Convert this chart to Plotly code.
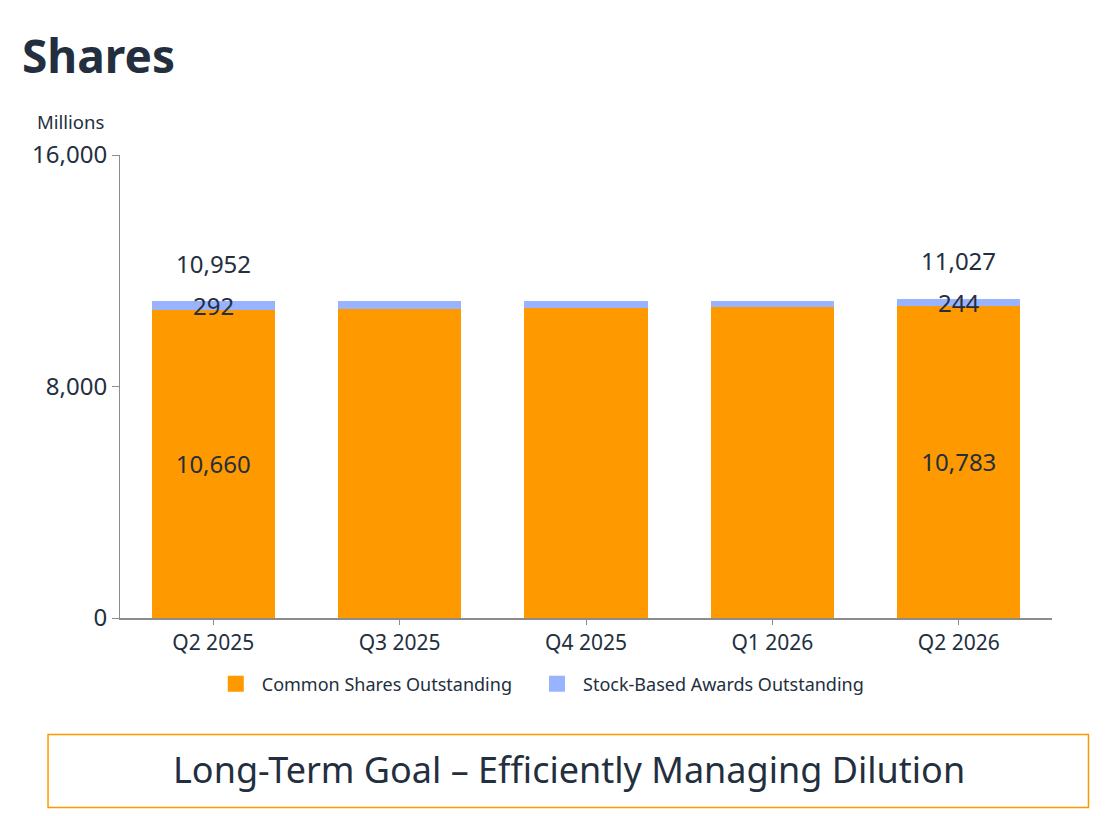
import plotly.graph_objects as go

categories = ["Q2 2025", "Q3 2025", "Q4 2025", "Q1 2026", "Q2 2026"]
common_shares = [10660, 10675, 10705, 10745, 10783]
stock_awards = [292, 275, 245, 215, 244]
labelled = [0, 4]
y_ticks = [0, 8000, 16000]
y_tick_labels = ["0", "8,000", "16,000"]
series_names = ["Common Shares Outstanding", "Stock-Based Awards Outstanding"]

ORANGE = "#FF9900"
BLUE = "#99B3FF"
DARK = "#232F3E"
AXIS = "#8C8C8C"
FONT = "Noto Sans"

# page body has an 8px margin; build the figure in reference pixel coordinates minus that
OFF = 8
W, H = 1110 - OFF, 816 - OFF
PL, PR, PT, PB = 120, 1052.5, 155, 618  # plot area in reference pixels
PW, PH = PR - PL, PB - PT


def px_x(x):
    return (x - PL) / PW


def px_y(y):
    return (PB - y) / PH


totals = [c + s for c, s in zip(common_shares, stock_awards)]
common_text = [f"{v:,}" if i in labelled else "" for i, v in enumerate(common_shares)]

fig = go.Figure()
fig.add_trace(go.Bar(
    x=categories, y=common_shares, name=series_names[0],
    marker=dict(color=ORANGE, line=dict(width=0)), showlegend=False,
    text=common_text, textposition="inside", insidetextanchor="middle",
    textfont=dict(size=24, color=DARK, family=FONT), hoverinfo="skip",
))
fig.add_trace(go.Bar(
    x=categories, y=stock_awards, name=series_names[1],
    marker=dict(color=BLUE, line=dict(width=0)), showlegend=False, hoverinfo="skip",
))
# legend proxies with larger square swatches
legend_labels = [series_names[0] + "\u00a0\u00a0\u00a0", series_names[1]]
for nm, col in zip(legend_labels, [ORANGE, BLUE]):
    fig.add_trace(go.Scatter(x=[None], y=[None], mode="markers", name=nm,
                             marker=dict(symbol="square", size=18, color=col),
                             hoverinfo="skip"))

annotations = []
for i in labelled:
    annotations.append(dict(x=categories[i], y=totals[i], xref="x", yref="y",
                            text=f"{stock_awards[i]:,}", showarrow=False,
                            yanchor="middle", yshift=-4,
                            font=dict(size=24, color=DARK, family=FONT)))
    annotations.append(dict(x=categories[i], y=totals[i], xref="x", yref="y",
                            text=f"{totals[i]:,}", showarrow=False,
                            yanchor="middle", yshift=38,
                            font=dict(size=24, color=DARK, family=FONT)))

annotations.append(dict(x=px_x(70), y=px_y(121), xref="paper", yref="paper", text="Millions",
                        showarrow=False, xanchor="center", yanchor="middle",
                        font=dict(size=18.5, color=DARK, family=FONT)))
annotations.append(dict(x=px_x(569), y=px_y(769), xref="paper", yref="paper",
                        text="Long-Term Goal – Efficiently Managing Dilution",
                        showarrow=False, xanchor="center", yanchor="middle",
                        font=dict(size=36, color=DARK, family=FONT)))

fig.update_layout(
    barmode="stack",
    bargap=0.339,
    width=W, height=H,
    margin=dict(l=PL - OFF, r=W - (PR - OFF), t=PT - OFF, b=H - (PB - OFF), pad=0),
    paper_bgcolor="white", plot_bgcolor="white",
    font=dict(family=FONT, color=DARK),
    title=dict(text="<b>Shares</b>", x=(22 - OFF) / W, xanchor="left",
               y=1 - (57 - OFF) / H, yanchor="middle",
               font=dict(size=46, color=DARK, family=FONT)),
    showlegend=True,
    legend=dict(orientation="h", x=px_x(539.5), xanchor="center",
                y=px_y(684), yanchor="middle",
                font=dict(size=18, color=DARK, family=FONT),
                traceorder="normal", itemsizing="trace",
                itemwidth=42),
    annotations=annotations,
    shapes=[dict(type="rect", xref="paper", yref="paper",
                 x0=px_x(48), x1=px_x(1089),
                 y0=px_y(807.5), y1=px_y(734.5),
                 line=dict(color=ORANGE, width=1.5), fillcolor="rgba(0,0,0,0)")],
)
fig.update_yaxes(range=[0, 16000], tickvals=y_ticks, ticktext=y_tick_labels,
                 showgrid=False, zeroline=False, showline=True, linecolor=AXIS,
                 linewidth=1, ticks="outside", ticklen=7, tickcolor=AXIS,
                 tickfont=dict(size=24, color=DARK, family=FONT))
fig.update_xaxes(showgrid=False, showline=True, linecolor=AXIS, linewidth=1.5,
                 ticks="outside", ticklen=5, tickcolor=AXIS,
                 tickfont=dict(size=21, color=DARK, family=FONT))

fig.write_html("out.html")
